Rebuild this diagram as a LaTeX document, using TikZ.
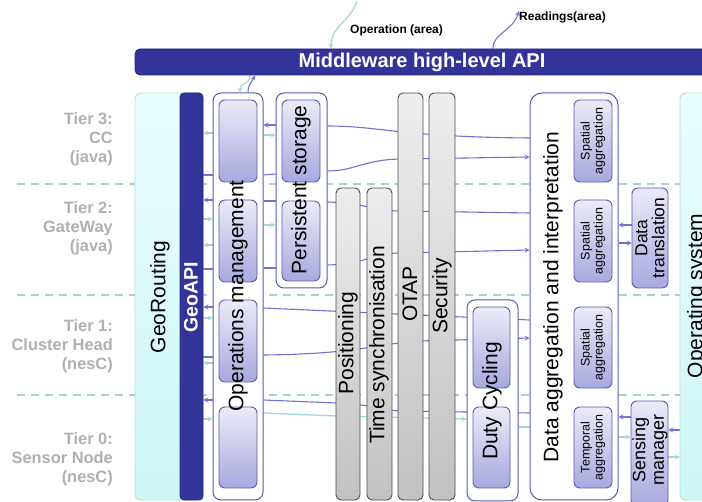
\documentclass[tikz,border=0pt]{standalone}
\usepackage{fontspec}
\setmainfont{Liberation Sans}
\usetikzlibrary{arrows.meta,backgrounds,fit}
\definecolor{navy}{HTML}{333399}
\definecolor{navyD}{HTML}{28287A}
\definecolor{vio}{HTML}{7272D4}
\definecolor{teal2}{HTML}{A4D8D8}
\definecolor{dashc}{HTML}{A8D2D2}
\definecolor{bord}{HTML}{5A5AB4}
\definecolor{lavT}{HTML}{EBEBF8}
\definecolor{lavB}{HTML}{A8A8DE}
\definecolor{grayT}{HTML}{EEEEEE}
\definecolor{grayB}{HTML}{C2C2C2}
\definecolor{grayD}{HTML}{4A4A4A}
\definecolor{tierc}{HTML}{B0B0B0}
\definecolor{cyanT}{HTML}{E9FDFD}
\definecolor{cyanB}{HTML}{CEF7F7}
\definecolor{cyanD}{HTML}{B4E0E0}
\tikzset{
 outerbox/.style={draw=bord, fill=white, line width=1pt, rounded corners=8pt, inner sep=0pt},
 innerbox/.style={draw=bord, top color=lavT, bottom color=lavB, line width=0.9pt, rounded corners=6pt, inner sep=0pt},
 graybar/.style={draw=grayD, top color=grayT, bottom color=grayB, line width=0.9pt, rounded corners=5pt, inner sep=0pt},
 cyanbox/.style={draw=cyanD, top color=cyanT, bottom color=cyanB, line width=0.9pt, rounded corners=6pt, inner sep=0pt},
 navybox/.style={draw=navyD, fill=navy, line width=0.8pt, rounded corners=4pt, inner sep=0pt},
 vtext/.style={rotate=90, font=\fontsize{21}{24}\selectfont, inner sep=0pt},
 smalltxt/.style={rotate=90, align=center, font=\fontsize{12.5}{13}\selectfont, inner sep=0pt},
 midtxt/.style={rotate=90, align=center, inner sep=0pt},
 tier/.style={anchor=east, align=right, text=tierc, font=\bfseries\fontsize{16.4}{19}\selectfont, inner sep=0pt},
 vl/.style={draw=vio, line width=1.1pt},
 tl/.style={draw=teal2, line width=1.3pt},
 arr/.style={-{Stealth[length=5pt,width=5pt,inset=2pt]}},
 tierline/.style={draw=dashc, line width=1.5pt, dash pattern=on 8pt off 6pt},
}
\begin{document}
\begin{tikzpicture}[x=1pt,y=-1pt]
\useasboundingbox (0,0) rectangle (702,502);
\clip (0,0) rectangle (702,502);
% ---------- boxes ----------
\node[navybox, rounded corners=5pt, fit={(135,49)(720,75)}] (mw) {};
\node[text=white, font=\bfseries\fontsize{20}{24}\selectfont, inner sep=0pt] (mwT) at (422,62) {Middleware high-level API};
\node[font=\bfseries\fontsize{12}{14}\selectfont, anchor=west, inner sep=0pt] (opT) at (350,30) {Operation (area)};
\node[font=\bfseries\fontsize{12}{14}\selectfont, anchor=west, inner sep=0pt] (rdT) at (519,17) {Readings(area)};
\coordinate (opS) at (357,1);

\node[cyanbox, fit={(135,93)(203,500)}] (geor) {};
\node[navybox, fit={(180,93)(203,500)}] (geoapi) {};
\node[cyanbox, fit={(680,93)(720,500)}] (os) {};

\node[outerbox, fit={(213,93)(263,500)}] (ops) {};
\node[innerbox, fit={(219,100)(257,182)}] (o1) {};
\node[innerbox, fit={(219,200)(257,282)}] (o2) {};
\node[innerbox, fit={(219,300)(257,382)}] (o3) {};
\node[innerbox, fit={(219,407)(257,488)}] (o4) {};

\node[outerbox, fit={(276,93)(327,288)}] (ps) {};
\node[innerbox, fit={(282,100)(320,182)}] (p1) {};
\node[innerbox, fit={(282,201)(320,281)}] (p2) {};

\node[graybar, fit={(336,188)(360,500)}] (pos) {};
\node[graybar, fit={(367,188)(392,500)}] (ts) {};
\node[graybar, fit={(398,93)(423,500)}] (otap) {};
\node[graybar, fit={(429,93)(455,500)}] (sec) {};

\node[outerbox, fit={(467,300)(518,501)}] (duty) {};
\node[innerbox, fit={(473,307)(510,388)}] (d1) {};
\node[innerbox, fit={(473,407)(510,488)}] (d2) {};

\node[outerbox, rounded corners=12pt, fit={(530,93)(618,500)}] (da) {};
\node[innerbox, fit={(574,100)(612,182)}] (a1) {};
\node[innerbox, fit={(574,200)(612,282)}] (a2) {};
\node[innerbox, fit={(574,307)(612,388)}] (a3) {};
\node[innerbox, fit={(574,407)(612,488)}] (a4) {};

\node[innerbox, fit={(632,188)(668,288)}] (dt) {};
\node[innerbox, fit={(631,401)(668,506)}] (sm) {};

% ---------- texts ----------
\node[tier] (t3) at (113,139) {Tier 3:\\CC\\(java)};
\node[tier] (t2) at (113,228) {Tier 2:\\GateWay\\(java)};
\node[tier] (t1) at (113,346) {Tier 1:\\Cluster Head\\(nesC)};
\node[tier] (t0) at (113,459) {Tier 0:\\Sensor Node\\(nesC)};

\node[vtext] (geoT) at (160,297) {GeoRouting};
\node[vtext, text=white, font=\bfseries\fontsize{19.5}{24}\selectfont] (apiT) at (191,297) {GeoAPI};
\node[vtext] (opsT) at (238,296) {Operations management};
\node[vtext] (psT) at (301,190) {Persistent storage};
\node[vtext] (posT) at (348,343) {Positioning};
\node[vtext] (tsT) at (379,345) {Time synchronisation};
\node[vtext] (otT) at (410,294) {OTAP};
\node[vtext] (secT) at (442,296) {Security};
\node[vtext] (dutyT) at (492,401) {Duty Cycling};
\node[vtext] (daT) at (553,297) {Data aggregation and interpretation};
\node[vtext] (osT) at (697,296) {Operating system};
\node[smalltxt] (a1T) at (a1) {Spatial\\aggregation};
\node[smalltxt] (a2T) at (a2) {Spatial\\aggregation};
\node[smalltxt] (a3T) at (a3) {Spatial\\aggregation};
\node[smalltxt] (a4T) at (a4) {Temporal\\aggregation};
\node[midtxt, font=\fontsize{17.5}{17}\selectfont] (dtT) at (650,238) {Data\\translation};
\node[midtxt, font=\fontsize{18}{18.5}\selectfont] (smT) at (650,450) {Sensing\\manager};

% ---------- connectors (behind) ----------
\begin{pgfonlayer}{background}
\draw[tierline] (17,184) -- (680,184);
\draw[tierline] (17,295) -- (680,295);
\draw[tierline] (17,395) -- (680,395);

% top
\draw[tl,arr] (mw.south-|250,0) .. controls (250,85) and (240,82) .. (ops.north-|240,0);
\draw[vl,arr] (ops.north-|248,0) .. controls (248,84) and (252,82) .. (mw.south-|255,0);
\draw[tl,arr] (opS) .. controls (350,22) and (331,26) .. (mw.north-|331,0);
\draw[vl,arr] (mw.north-|493,0) .. controls (493,33) and (512,32) .. (rdT.north west);

% tier 3
\draw[tl,arr] (ops.west|-0,133) -- (geoapi.east|-0,133);
\draw[vl] (geoapi.east|-0,175) -- (ops.west|-0,175);
\draw[vl,arr] (ps.west|-0,125) -- (ops.east|-0,125);
\draw[tl,arr] (ops.east|-0,135) -- (ps.west|-0,135);
\draw[vl] (ops.east|-0,175) -- (ps.west|-0,174);
\draw[vl] (ps.east|-0,126) .. controls (380,126) and (400,137) .. (da.west|-0,138);
\draw[vl,arr] (ps.east|-0,171) .. controls (355,171) and (362,160) .. (400,159) -- (da.west|-0,157);

% tier 2
\draw[vl,arr] (ops.west|-0,200) -- (geoapi.east|-0,200);
\draw[tl,arr] (geoapi.east|-0,219) -- (ops.west|-0,219);
\draw[tl,arr] (ops.west|-0,245) -- (geoapi.east|-0,245);
\draw[vl] (geoapi.east|-0,269) -- (ops.west|-0,269);
\draw[vl] (ops.east|-0,201) -- (ps.west|-0,201);
\draw[tl,arr] (ops.east|-0,225) -- (ps.west|-0,225);
\draw[vl] (ops.east|-0,268) -- (ps.west|-0,268);
\draw[vl] (ps.east|-0,202) .. controls (365,203) and (375,211) .. (400,211) -- (da.west|-0,213);
\draw[vl,arr] (ps.east|-0,265) .. controls (365,264) and (375,253) .. (400,253) -- (da.west|-0,250);
\draw[vl,arr] (dt.west|-0,225) -- (da.east|-0,225);
\draw[vl,arr] (da.east|-0,243) -- (dt.west|-0,243);

% tier 1
\draw[vl,arr] (ops.west|-0,307) -- (geoapi.east|-0,307);
\draw[tl,arr] (geoapi.east|-0,318) -- (ops.west|-0,318);
\draw[vl] (geoapi.east|-0,357) -- (ops.west|-0,357);
\draw[tl,arr] (ops.west|-0,363) -- (geoapi.east|-0,363);
\draw[vl] (ops.east|-0,308) -- (da.west|-0,320);
\draw[vl,arr] (ops.east|-0,355) .. controls (360,354) and (380,343) .. (420,341) -- (da.west|-0,338);

% tier 0
\draw[vl,arr] (ops.west|-0,400) -- (geoapi.east|-0,400);
\draw[tl,arr] (geoapi.east|-0,419) -- (ops.west|-0,419);
\draw[vl] (ops.east|-0,400) -- (336,403) .. controls (370,404) and (380,410) .. (400,411) -- (da.west|-0,413);
\draw[tl,arr] (ops.east|-0,413) -- (336,416) -- (duty.west|-0,419);
\draw[tl] (duty.east|-0,427) -- (da.west|-0,427);
\draw[vl,arr] (sm.west|-0,417) -- (da.east|-0,417);
\draw[tl,arr] (da.east|-0,437) -- (sm.west|-0,437);
\draw[vl,arr] (os.west|-0,430) -- (sm.east|-0,430);
\draw[tl,arr] (sm.east|-0,457) -- (os.west|-0,457);
\end{pgfonlayer}
\end{tikzpicture}
\end{document}
